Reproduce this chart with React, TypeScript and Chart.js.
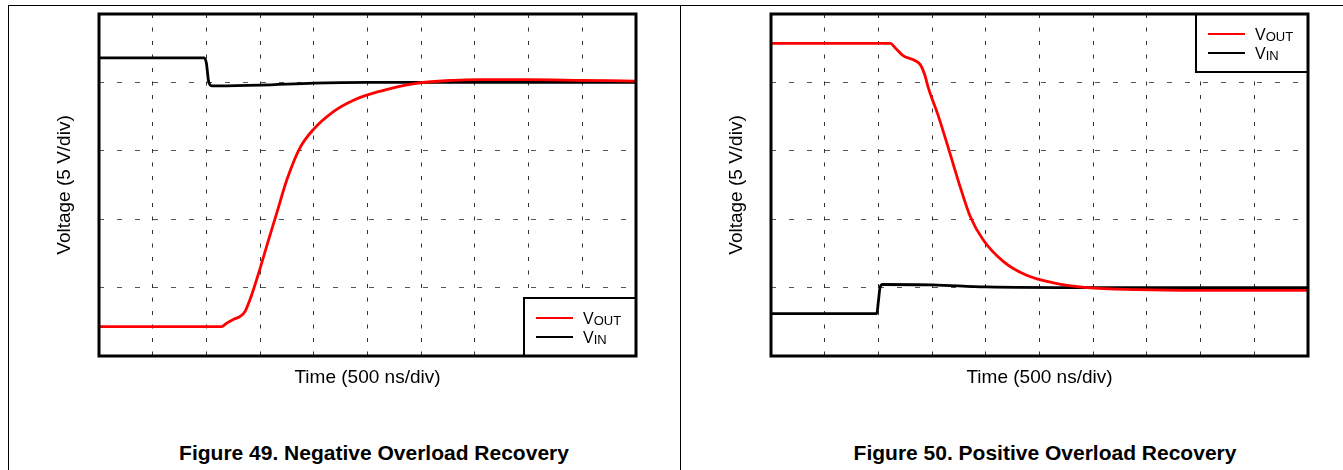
import React, { useEffect, useRef } from "react";
import { Chart, registerables } from "chart.js";

Chart.register(...registerables);

const FONT = '"Liberation Sans", Arial, Helvetica, sans-serif';

// Figure 49 – Negative Overload Recovery (x: time in divisions, y: voltage in divisions)
const fig49VoutTime = [0, 2.28, 2.38, 2.52, 2.63, 2.72, 2.8, 2.88, 3.0, 3.12, 3.31, 3.5, 3.74, 3.99, 4.36, 4.74, 5.23, 5.85, 6.59, 7.09, 8, 9, 10];
const fig49VoutValue = [0.43, 0.43, 0.48, 0.54, 0.58, 0.65, 0.8, 0.98, 1.28, 1.6, 2.09, 2.58, 3.04, 3.31, 3.57, 3.74, 3.87, 3.98, 4.03, 4.04, 4.04, 4.03, 4.02];
const fig49VinTime = [0, 1.96, 2.0, 2.04, 2.1, 2.2, 3, 4, 5, 6, 8, 10];
const fig49VinValue = [4.36, 4.36, 4.28, 4.02, 3.95, 3.95, 3.96, 3.99, 4.0, 4.0, 4.0, 4.0];

// Figure 50 – Positive Overload Recovery
const fig50VoutTime = [0, 2.22, 2.32, 2.46, 2.65, 2.78, 2.86, 2.93, 3.12, 3.33, 3.52, 3.71, 3.95, 4.33, 4.76, 5.26, 5.88, 6.81, 8, 10];
const fig50VoutValue = [4.57, 4.57, 4.5, 4.39, 4.33, 4.26, 4.12, 3.92, 3.5, 2.97, 2.48, 2.04, 1.7, 1.38, 1.18, 1.07, 1.0, 0.97, 0.96, 0.96];
const fig50VinTime = [0, 1.97, 2.0, 2.03, 2.08, 3, 4, 6, 10];
const fig50VinValue = [0.62, 0.62, 0.8, 1.0, 1.045, 1.04, 1.01, 1.0, 1.0];

const xDivisions = [0, 10];
const yDivisions = [0, 5];
const xTitle = "Time (500 ns/div)";
const yTitle = "Voltage (5 V/div)";
const legendMain = ["V", "V"];
const legendSub = ["OUT", "IN"];
const seriesColors = ["#ff0000", "#000000"];

function toPoints(t: number[], v: number[]) {
  return t.map((x, i) => ({ x, y: v[i] }));
}

const frameLegendPlugin = {
  id: "frameLegend",
  afterDraw(chart: any, _args: any, opts: any) {
    const { ctx, chartArea: a } = chart;
    ctx.save();
    const w = 112;
    const h = 58;
    const x0 = a.right - w;
    const y0 = opts.corner === "bottom" ? a.bottom - h : a.top;
    ctx.fillStyle = "#fff";
    ctx.fillRect(x0, y0, w, h);
    ctx.strokeStyle = "#000";
    ctx.lineWidth = 2;
    ctx.strokeRect(x0, y0, w, h);
    for (let i = 0; i < legendMain.length; i++) {
      const ly = y0 + 20 + i * 19;
      ctx.strokeStyle = seriesColors[i];
      ctx.lineWidth = 2;
      ctx.beginPath();
      ctx.moveTo(x0 + 12, ly);
      ctx.lineTo(x0 + 49, ly);
      ctx.stroke();
      ctx.fillStyle = "#000";
      ctx.textAlign = "left";
      ctx.textBaseline = "alphabetic";
      ctx.font = `16px ${FONT}`;
      ctx.fillText(legendMain[i], x0 + 59, ly + 6);
      const vw = ctx.measureText(legendMain[i]).width;
      ctx.font = `13px ${FONT}`;
      ctx.fillText(legendSub[i], x0 + 59 + vw, ly + 7);
    }
    ctx.strokeStyle = "#000";
    ctx.lineWidth = 3;
    ctx.strokeRect(a.left, a.top, a.right - a.left, a.bottom - a.top);
    ctx.restore();
  },
};

type PlotProps = {
  left: number;
  width: number;
  padLeft: number;
  padRight: number;
  vout: { x: number; y: number }[];
  vin: { x: number; y: number }[];
  corner: "top" | "bottom";
};

function Plot({ left, width, padLeft, padRight, vout, vin, corner }: PlotProps) {
  const ref = useRef<HTMLCanvasElement>(null);
  useEffect(() => {
    if (!ref.current) return;
    const chart = new Chart(ref.current, {
      type: "line",
      data: {
        datasets: [
          {
            label: "VOUT",
            data: vout,
            borderColor: seriesColors[0],
            borderWidth: 2.8,
            pointRadius: 0,
            cubicInterpolationMode: "monotone",
            fill: false,
          },
          {
            label: "VIN",
            data: vin,
            borderColor: seriesColors[1],
            borderWidth: 2.8,
            pointRadius: 0,
            cubicInterpolationMode: "monotone",
            fill: false,
          },
        ],
      },
      options: {
        responsive: false,
        animation: false,
        devicePixelRatio: 1,
        layout: { padding: { left: padLeft, right: padRight, top: 14, bottom: 10.6 } },
        plugins: {
          legend: { display: false },
          tooltip: { enabled: false },
          frameLegend: { corner },
        } as any,
        scales: {
          x: {
            type: "linear",
            min: xDivisions[0],
            max: xDivisions[1],
            ticks: { display: false, stepSize: 1 },
            grid: { color: "#333", lineWidth: 1, drawTicks: false },
            border: { display: false, dash: [4, 9.5] },
            title: {
              display: true,
              text: xTitle,
              color: "#000",
              font: { family: FONT, size: 19, lineHeight: 1.2 },
              padding: { top: 10.6, bottom: 0 },
            },
          },
          y: {
            type: "linear",
            min: yDivisions[0],
            max: yDivisions[1],
            ticks: { display: false, stepSize: 1 },
            grid: { color: "#555", lineWidth: 1, drawTicks: false },
            border: { display: false, dash: [5, 13] },
            title: {
              display: true,
              text: yTitle,
              color: "#000",
              font: { family: FONT, size: 19, lineHeight: 1.2 },
              padding: { top: 0, bottom: 22.6 },
            },
          },
        },
      } as any,
      plugins: [frameLegendPlugin],
    });
    return () => chart.destroy();
  }, []);
  return (
    <canvas
      ref={ref}
      width={width}
      height={400}
      style={{ position: "absolute", left, top: 0, width, height: 400 }}
    />
  );
}

export default function App() {
  const line = (s: React.CSSProperties) => (
    <div style={{ position: "absolute", background: "#000", ...s }} />
  );
  const caption: React.CSSProperties = {
    position: "absolute",
    top: 441,
    width: 500,
    textAlign: "center",
    fontFamily: FONT,
    fontWeight: "bold",
    fontSize: 21,
    lineHeight: "24px",
    color: "#000",
  };
  return (
    <div
      style={{
        position: "absolute",
        left: 0,
        top: 0,
        width: 1343,
        height: 470,
        overflow: "hidden",
        background: "#fff",
      }}
    >
      {line({ left: 8, top: 5, width: 1335, height: 1 })}
      {line({ left: 8, top: 5, width: 1, height: 465 })}
      {line({ left: 680, top: 5, width: 1, height: 465 })}
      <Plot
        left={0}
        width={681}
        padLeft={53.6}
        padRight={45}
        vout={toPoints(fig49VoutTime, fig49VoutValue)}
        vin={toPoints(fig49VinTime, fig49VinValue)}
        corner="bottom"
      />
      <Plot
        left={681}
        width={662}
        padLeft={44.6}
        padRight={35}
        vout={toPoints(fig50VoutTime, fig50VoutValue)}
        vin={toPoints(fig50VinTime, fig50VinValue)}
        corner="top"
      />
      <div style={{ ...caption, left: 374 - 250 }}>Figure 49. Negative Overload Recovery</div>
      <div style={{ ...caption, left: 1045 - 250 }}>Figure 50. Positive Overload Recovery</div>
    </div>
  );
}
